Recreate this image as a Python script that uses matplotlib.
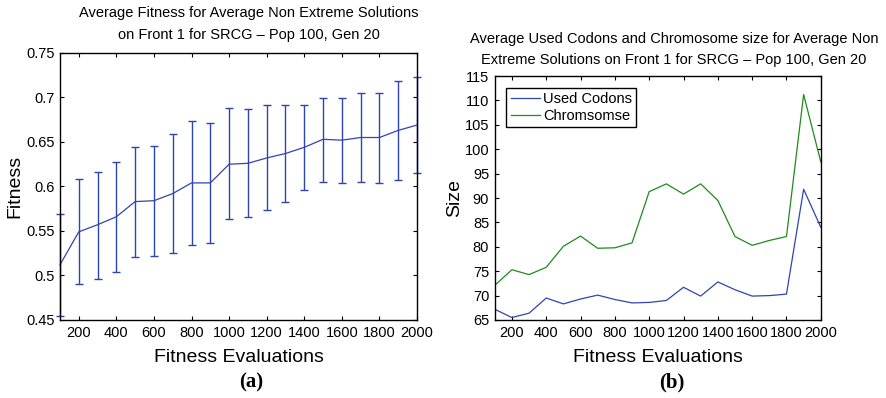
import matplotlib.pyplot as plt

plt.rcParams['font.family'] = ['Liberation Sans', 'DejaVu Sans']

# === Data ===
evals = [100, 200, 300, 400, 500, 600, 700, 800, 900, 1000,
         1100, 1200, 1300, 1400, 1500, 1600, 1700, 1800, 1900, 2000]

fit_mean = [0.512, 0.549, 0.557, 0.566, 0.583, 0.584, 0.592, 0.604, 0.604, 0.625,
            0.626, 0.632, 0.637, 0.644, 0.653, 0.652, 0.655, 0.655, 0.663, 0.669]
fit_upper = [0.569, 0.608, 0.616, 0.628, 0.644, 0.645, 0.659, 0.673, 0.671, 0.688,
             0.687, 0.692, 0.691, 0.692, 0.699, 0.699, 0.705, 0.705, 0.718, 0.723]
fit_lower = [0.455, 0.490, 0.496, 0.504, 0.521, 0.522, 0.525, 0.534, 0.536, 0.563,
             0.566, 0.574, 0.583, 0.596, 0.605, 0.604, 0.605, 0.604, 0.607, 0.615]

used_codons = [67.2, 65.5, 66.4, 69.5, 68.3, 69.3, 70.1, 69.2, 68.5, 68.6,
               69.0, 71.7, 69.9, 72.8, 71.2, 69.9, 70.0, 70.3, 91.8, 84.0]
chromosome = [72.1, 75.3, 74.3, 75.8, 80.1, 82.2, 79.7, 79.8, 80.8, 91.3,
              92.9, 90.8, 92.9, 89.5, 82.1, 80.3, 81.3, 82.1, 111.2, 97.4]

x_ticks = [200, 400, 600, 800, 1000, 1200, 1400, 1600, 1800, 2000]
fit_ticks = [0.45, 0.5, 0.55, 0.6, 0.65, 0.7, 0.75]
fit_tick_labels = ["0.45", "0.5", "0.55", "0.6", "0.65", "0.7", "0.75"]
size_ticks = [65, 70, 75, 80, 85, 90, 95, 100, 105, 110, 115]

blue = '#2e45b0'
green = '#1f8a1f'


def style_axes(ax):
    ax.tick_params(direction='in', top=True, right=True, labelsize=10.5,
                   length=3, width=0.8, pad=4)
    for s in ax.spines.values():
        s.set_linewidth(1.0)


fig = plt.figure(figsize=(8.86, 3.98), dpi=100)

# === (a) Fitness ===
ax1 = fig.add_axes([0.0677, 0.196, 0.403, 0.671])
lo = [m - l for m, l in zip(fit_mean, fit_lower)]
hi = [u - m for m, u in zip(fit_mean, fit_upper)]
ax1.errorbar(evals, fit_mean, yerr=[lo, hi], color=blue, ecolor=blue,
             elinewidth=1.0, lw=0.9, capsize=3, capthick=1.0, clip_on=False)
ax1.set_xlim(100, 2000)
ax1.set_ylim(0.45, 0.75)
ax1.set_xticks(x_ticks)
ax1.set_yticks(fit_ticks)
ax1.set_yticklabels(fit_tick_labels)
style_axes(ax1)
ax1.set_title("Average Fitness for Average Non Extreme Solutions\non Front 1 for SRCG \u2013 Pop 100, Gen 20",
              fontsize=10.5, pad=10, linespacing=1.7, x=0.53)
ax1.set_xlabel("Fitness Evaluations", fontsize=14, labelpad=7)
ax1.set_ylabel("Fitness", fontsize=14, labelpad=2)
fig.text(0.283, 0.04, "(a)", fontsize=15, fontweight='bold',
         family=['Liberation Serif', 'DejaVu Serif'], ha='center', va='center')

# === (b) Used codons / chromosome size ===
ax2 = fig.add_axes([0.5584, 0.196, 0.368, 0.613])
ax2.plot(evals, used_codons, color=blue, lw=0.9, label="Used Codons")
ax2.plot(evals, chromosome, color=green, lw=0.9, label="Chromsomse")
ax2.set_xlim(100, 2000)
ax2.set_ylim(65, 115)
ax2.set_xticks(x_ticks)
ax2.set_yticks(size_ticks)
style_axes(ax2)
ax2.set_title("Average Used Codons and Chromosome size for Average Non\nExtreme Solutions on Front 1 for SRCG \u2013 Pop 100, Gen 20",
              fontsize=10.5, pad=9, linespacing=1.55, x=0.55)
ax2.set_xlabel("Fitness Evaluations", fontsize=14, labelpad=7)
ax2.set_ylabel("Size", fontsize=14, labelpad=1)
leg = ax2.legend(loc='upper left', fontsize=10.5, fancybox=False, framealpha=1,
                 edgecolor='black', borderpad=0.3, handlelength=2.0,
                 handletextpad=0.2, labelspacing=0.2, borderaxespad=0.8)
leg.get_frame().set_linewidth(1.0)
fig.text(0.758, 0.04, "(b)", fontsize=15, fontweight='bold',
         family=['Liberation Serif', 'DejaVu Serif'], ha='center', va='center')

plt.savefig("out.png", dpi=100)
